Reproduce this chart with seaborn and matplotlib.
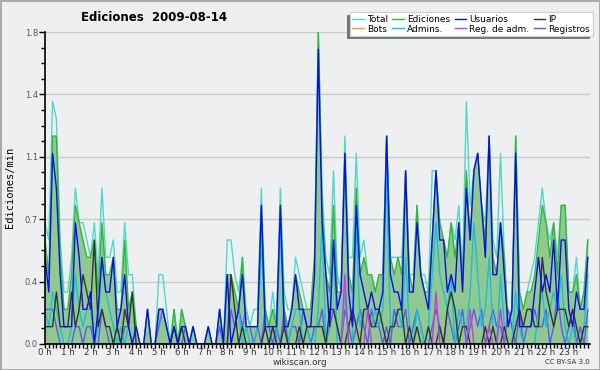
import numpy as np
import pandas as pd
import seaborn as sns
import matplotlib.pyplot as plt
from matplotlib.patches import Rectangle

# ediciones por cada intervalo de 10 minutos (una fila = una hora)
total = [
    7, 6, 14, 13, 6, 3,   3, 5, 9, 7, 7, 6,   5, 7, 4, 9, 5, 5,   6, 3, 3, 7, 4, 4,
    1, 0, 0, 2, 0, 0,     4, 4, 2, 0, 2, 0,   2, 1, 0, 1, 0, 0,   0, 1, 0, 0, 2, 0,
    6, 6, 4, 3, 5, 2,     1, 2, 2, 9, 2, 1,   3, 1, 9, 3, 2, 2,   5, 4, 3, 2, 2, 5,
    18, 9, 5, 4, 10, 4,   3, 12, 5, 5, 11, 5, 6, 4, 4, 3, 4, 4,   12, 5, 5, 5, 5, 10,
    4, 4, 8, 4, 4, 3,     10, 10, 7, 6, 5, 7, 6, 8, 4, 14, 8, 10, 11, 8, 7, 12, 6, 5,
    11, 5, 1, 2, 12, 3,   2, 3, 4, 5, 7, 9,   7, 6, 7, 5, 8, 8,   3, 3, 5, 2, 3, 6,
]
ediciones = [
    6, 4, 12, 12, 5, 2,   2, 4, 8, 7, 6, 5,   5, 6, 3, 7, 4, 4,   5, 2, 2, 6, 2, 3,
    1, 0, 0, 2, 0, 0,     2, 2, 1, 0, 2, 0,   2, 1, 0, 1, 0, 0,   0, 1, 0, 0, 2, 0,
    4, 4, 3, 2, 5, 1,     1, 1, 1, 8, 2, 1,   2, 1, 8, 2, 1, 2,   4, 3, 2, 2, 2, 5,
    18, 8, 4, 3, 8, 3,    3, 11, 4, 3, 9, 4,  5, 4, 4, 3, 4, 4,   12, 5, 4, 5, 4, 10,
    4, 3, 8, 4, 3, 3,     6, 10, 7, 6, 5, 7,  5, 7, 4, 10, 6, 10, 11, 8, 6, 12, 5, 4,
    7, 5, 1, 2, 12, 3,    2, 3, 3, 4, 6, 8,   7, 5, 7, 4, 8, 8,   3, 3, 4, 2, 3, 6,
]
usuarios = [
    5, 3, 11, 9, 4, 1,    1, 1, 7, 5, 2, 2,   3, 0, 2, 5, 3, 3,   5, 1, 2, 4, 1, 0,
    1, 0, 0, 2, 0, 0,     2, 2, 1, 0, 1, 0,   1, 1, 0, 1, 0, 0,   0, 1, 0, 0, 2, 0,
    4, 0, 1, 2, 4, 1,     1, 1, 1, 8, 1, 1,   1, 1, 8, 1, 1, 2,   4, 2, 2, 1, 1, 4,
    17, 7, 4, 1, 6, 2,    3, 11, 3, 1, 8, 4,  3, 2, 3, 2, 2, 3,   12, 4, 3, 3, 2, 10,
    3, 3, 7, 4, 3, 2,     6, 10, 6, 6, 3, 4,  3, 7, 3, 9, 6, 10,  11, 8, 5, 12, 4, 4,
    7, 4, 1, 2, 11, 1,    1, 1, 1, 3, 5, 3,   4, 3, 6, 2, 6, 6,   2, 1, 3, 2, 2, 5,
]
ip = [
    1, 1, 1, 3, 1, 1,     1, 3, 1, 2, 4, 3,   2, 6, 1, 2, 1, 1,   0, 1, 0, 2, 1, 3,
    0, 0, 0, 0, 0, 0,     0, 0, 0, 0, 1, 0,   1, 0, 0, 0, 0, 0,   0, 0, 0, 0, 0, 0,
    0, 4, 2, 0, 1, 0,     0, 0, 0, 0, 1, 0,   1, 0, 0, 1, 0, 0,   0, 1, 0, 1, 1, 1,
    1, 1, 0, 2, 2, 1,     0, 0, 1, 2, 1, 0,   2, 2, 1, 1, 2, 1,   0, 1, 1, 2, 2, 0,
    1, 0, 1, 0, 0, 1,     0, 0, 1, 0, 2, 3,   2, 0, 1, 1, 0, 0,   0, 0, 1, 0, 1, 0,
    0, 1, 0, 0, 1, 2,     1, 2, 2, 1, 1, 5,   3, 2, 1, 2, 2, 2,   1, 2, 1, 0, 1, 1,
]
bots = [
    0, 0, 0, 0, 0, 0,     0, 0, 0, 0, 0, 0,   0, 0, 0, 0, 0, 0,   0, 0, 0, 0, 0, 0,
    0, 0, 0, 0, 0, 0,     0, 0, 0, 0, 0, 0,   0, 0, 0, 0, 0, 0,   0, 0, 0, 0, 0, 0,
    0, 0, 0, 0, 0, 0,     0, 0, 0, 0, 0, 0,   0, 0, 0, 0, 0, 0,   0, 0, 0, 0, 0, 0,
    0, 0, 0, 0, 0, 0,     0, 0, 0, 0, 0, 0,   0, 0, 0, 0, 0, 0,   0, 0, 0, 0, 0, 0,
    0, 0, 0, 0, 0, 0,     0, 0, 0, 0, 0, 0,   0, 0, 0, 0, 0, 0,   0, 0, 0, 0, 0, 0,
    0, 0, 0, 0, 0, 0,     0, 0, 0, 0, 0, 0,   0, 0, 0, 0, 0, 0,   0, 0, 0, 0, 0, 0,
]
admins = [
    2, 1, 3, 2, 1, 0,     0, 1, 4, 2, 1, 2,   2, 0, 1, 5, 3, 2,   1, 0, 1, 0, 1, 0,
    0, 0, 0, 0, 0, 0,     0, 0, 0, 0, 0, 0,   0, 0, 0, 0, 0, 0,   0, 0, 0, 0, 0, 0,
    0, 0, 1, 2, 0, 1,     0, 0, 1, 6, 1, 0,   1, 0, 7, 1, 0, 1,   2, 2, 0, 1, 0, 0,
    2, 7, 0, 1, 6, 0,     0, 3, 0, 0, 7, 1,   2, 2, 1, 2, 1, 2,   10, 1, 1, 2, 1, 5,
    1, 0, 2, 1, 0, 1,     4, 7, 4, 3, 2, 4,   0, 2, 1, 1, 3, 7,   4, 1, 2, 5, 1, 0,
    4, 1, 0, 0, 3, 1,     0, 0, 0, 0, 2, 3,   1, 2, 3, 2, 4, 1,   0, 1, 0, 0, 1, 4,
]
reg_adm = [
    0, 0, 0, 0, 0, 0,     0, 0, 0, 0, 0, 0,   0, 0, 0, 0, 0, 0,   0, 0, 0, 0, 0, 0,
    0, 0, 0, 0, 0, 0,     0, 0, 0, 0, 0, 0,   0, 0, 0, 0, 0, 0,   0, 0, 0, 0, 0, 0,
    0, 0, 0, 0, 0, 0,     0, 0, 0, 0, 0, 0,   0, 0, 0, 0, 0, 0,   0, 0, 0, 0, 0, 0,
    0, 0, 0, 0, 0, 0,     0, 4, 0, 0, 0, 0,   0, 2, 0, 0, 0, 0,   0, 0, 0, 0, 0, 0,
    0, 0, 0, 0, 0, 0,     0, 3, 0, 0, 0, 0,   0, 0, 0, 0, 2, 0,   0, 0, 0, 1, 0, 0,
    2, 0, 0, 0, 0, 0,     0, 0, 0, 0, 0, 0,   0, 0, 0, 0, 0, 0,   0, 0, 0, 0, 0, 0,
]
registros = [
    2, 2, 2, 1, 0, 0,     0, 0, 1, 1, 0, 1,   1, 0, 0, 2, 1, 0,   0, 1, 0, 1, 1, 0,
    0, 0, 0, 0, 0, 0,     1, 2, 1, 0, 0, 0,   0, 1, 0, 0, 0, 0,   0, 0, 0, 0, 1, 0,
    0, 2, 1, 2, 1, 2,     1, 0, 1, 0, 2, 1,   0, 1, 0, 2, 0, 1,   1, 0, 2, 1, 0, 1,
    1, 2, 0, 1, 2, 1,     0, 2, 1, 0, 1, 2,   1, 0, 2, 1, 1, 0,   1, 0, 2, 1, 1, 2,
    0, 1, 2, 1, 0, 0,     1, 2, 1, 0, 2, 1,   0, 1, 2, 0, 1, 2,   1, 2, 0, 1, 2, 1,
    1, 0, 2, 1, 0, 2,     0, 1, 1, 2, 1, 1,   2, 0, 1, 3, 1, 0,   1, 2, 0, 1, 0, 2,
]

etiquetas_hora = ['0 h', '1 h', '2 h', '3 h', '4 h', '5 h', '6 h', '7 h', '8 h', '9 h',
                  '10 h', '11 h', '12 h', '13 h', '14 h', '15 h', '16 h', '17 h',
                  '18 h', '19 h', '20 h', '21 h', '22 h', '23 h']
etiquetas_y = ['0.0', '0.4', '0.7', '1.1', '1.4', '1.8']

# conteos por 10 min -> ediciones/min
df = pd.DataFrame({
    'hora': np.arange(len(total)) / 6,
    'Total': np.array(total) / 10,
    'Ediciones': np.array(ediciones) / 10,
    'Usuarios': np.array(usuarios) / 10,
    'IP': np.array(ip) / 10,
    'Bots': np.array(bots) / 10,
    'Admins.': np.array(admins) / 10,
    'Reg. de adm.': np.array(reg_adm) / 10,
    'Registros': np.array(registros) / 10,
})

colores = {
    'Total': '#4fd8c8',
    'Ediciones': '#36b536',
    'Usuarios': '#0c0ce6',
    'IP': '#333333',
    'Bots': '#ff9a2a',
    'Admins.': '#1bbfd6',
    'Reg. de adm.': '#c93adc',
    'Registros': '#5a5af0',
}

fondo = '#eeeff0'
fig = plt.figure(figsize=(6, 3.7), dpi=100, facecolor=fondo)
fig.patch.set_edgecolor('#aaaaaa')
fig.patch.set_linewidth(2)
ax = fig.add_axes([0.075, 0.0703, 0.908, 0.843])
ax.set_facecolor(fondo)

ax.fill_between(df['hora'], df['Ediciones'], color='#8fc98f', lw=0, zorder=1.5)

orden = ['Bots', 'Registros', 'Total', 'Ediciones', 'Admins.', 'IP', 'Usuarios', 'Reg. de adm.']
for i, serie in enumerate(orden):
    sns.lineplot(data=df, x='hora', y=serie, color=colores[serie], lw=1.0,
                 label=serie, legend=False, ax=ax, zorder=2 + i * 0.1)

ax.set_xlabel('')
ax.set_ylabel('')
ax.set_xlim(0, 23.92)
ax.set_ylim(0, 1.8)

ax.set_xticks(range(24), labels=etiquetas_hora)
ax.set_xticks(np.arange(0, 24, 1 / 6), minor=True)
ax.set_yticks([0, 0.36, 0.72, 1.08, 1.44, 1.8], labels=etiquetas_y)
ax.set_yticks(np.arange(0, 1.81, 0.09), minor=True)
ax.tick_params(axis='x', which='both', length=3, width=1, pad=0,
               labelsize=6.2, labelcolor='#333333')
ax.tick_params(axis='y', which='major', length=4, width=1, pad=1,
               labelsize=6, labelcolor='#555555')
ax.tick_params(axis='y', which='minor', length=3, width=1)

ax.yaxis.grid(True, color='#c9c9c9', lw=1)
ax.xaxis.grid(False)
ax.set_axisbelow(True)
for lado in ['top', 'right']:
    ax.spines[lado].set_visible(False)
for lado in ['left', 'bottom']:
    ax.spines[lado].set_color('black')
    ax.spines[lado].set_linewidth(1.2)
    ax.spines[lado].set_zorder(5)

fig.text(0.257, 0.954, 'Ediciones  2009-08-14', ha='center', va='center',
         fontsize=8.5, fontweight='bold')
fig.text(0.017, 0.493, 'Ediciones/min', rotation=90, ha='center', va='center',
         family='DejaVu Sans Mono', fontsize=7.5)
fig.text(0.5, 0.021, 'wikiscan.org', ha='center', va='center', fontsize=6.3, color='#333333')
fig.text(0.983, 0.021, 'CC BY-SA 3.0', ha='right', va='center', fontsize=5, color='#333333')

handles, labels = ax.get_legend_handles_labels()
h_por_nombre = dict(zip(labels, handles))
orden_leyenda = ['Total', 'Bots', 'Ediciones', 'Admins.', 'Usuarios', 'Reg. de adm.', 'IP', 'Registros']
leg = fig.legend([h_por_nombre[n] for n in orden_leyenda], orden_leyenda,
                 loc='upper right', bbox_to_anchor=(593 / 600, 1 - 12 / 370),
                 ncol=4, fontsize=6.5, frameon=True, fancybox=False,
                 handlelength=1.3, handletextpad=0.35, columnspacing=0.45,
                 labelspacing=0.1, borderpad=0.3, borderaxespad=0)
leg.get_frame().set_facecolor('white')
leg.get_frame().set_edgecolor('#cccccc')
leg.get_frame().set_linewidth(0.8)
leg.get_frame().set_alpha(1)

fig.canvas.draw()
bb = leg.get_window_extent().transformed(fig.transFigure.inverted())
dx, dy = 3 / 600, 3 / 370
sombra = Rectangle((bb.x0 - dx, bb.y0 - dy), bb.width, bb.height,
                   transform=fig.transFigure, facecolor='#777777', edgecolor='none',
                   zorder=leg.get_zorder() - 0.1)
fig.add_artist(sombra)

fig.savefig('out.png', dpi=100, facecolor=fondo, edgecolor='#aaaaaa')
